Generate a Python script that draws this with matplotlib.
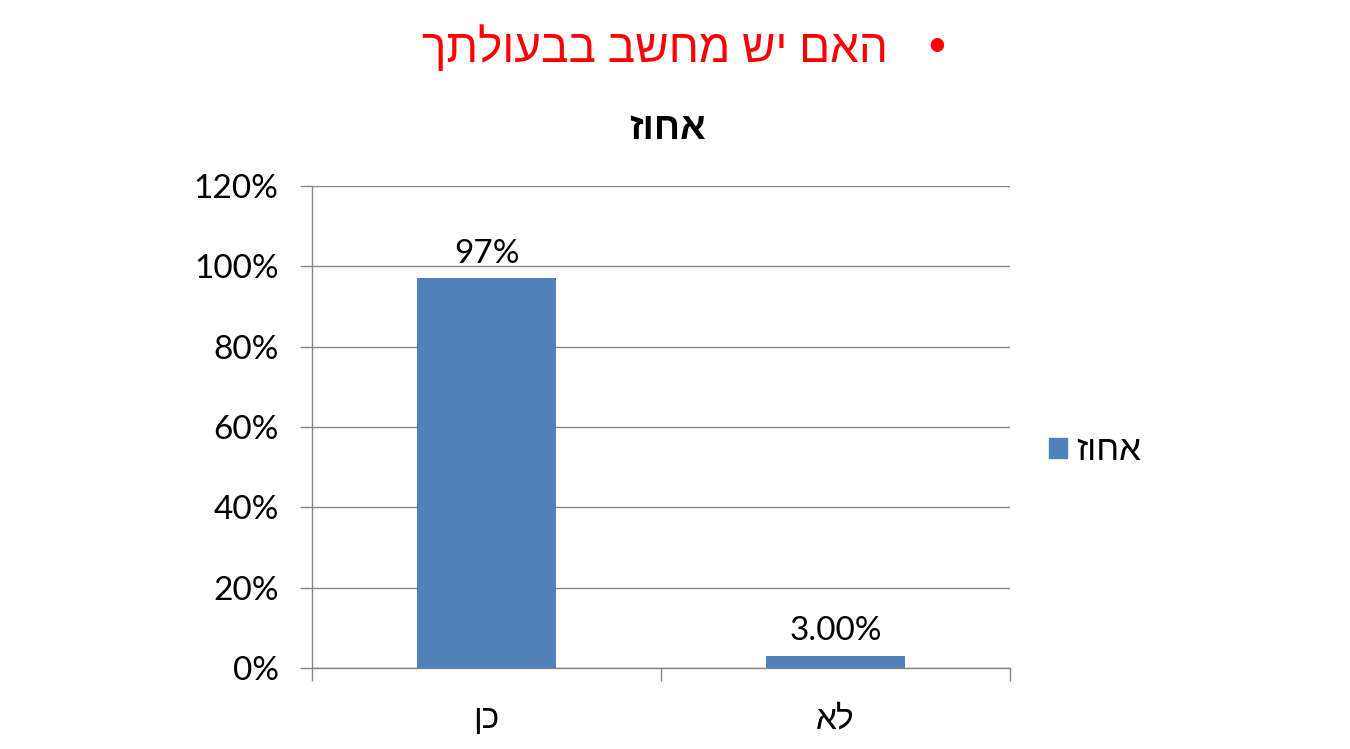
import matplotlib
matplotlib.use("Agg")
import matplotlib.pyplot as plt
from matplotlib.patches import Patch

# data
categories = ["כן", "לא"]
values = [0.97, 0.03]
value_labels = ["97%", "3.00%"]
series_name = "אחוז"
chart_title = "אחוז"
heading = "האם יש מחשב בבעולתך"
yticks = [0, 0.2, 0.4, 0.6, 0.8, 1.0, 1.2]


def rtl(s):
    # matplotlib has no bidi support, so flip Hebrew to visual order
    return s[::-1]


FONT = ["Lato", "Liberation Sans", "DejaVu Sans"]
plt.rcParams["font.family"] = FONT

BAR = "#4F81BD"
GRID = "#868686"

fig = plt.figure(figsize=(13.5, 7.49), dpi=100)
ax = fig.add_axes([312 / 1350, 1 - 668 / 749, 698 / 1350, 482 / 749])

x = list(range(len(categories)))
bars = ax.bar(x, values, width=0.4, color=BAR, zorder=3)

for b, lab in zip(bars, value_labels):
    ax.annotate(lab, (b.get_x() + b.get_width() / 2, b.get_height()),
                xytext=(0, 7), textcoords="offset points",
                ha="center", va="bottom", fontsize=24, color="black")

ax.set_xlim(-0.5, 1.5)
ax.set_ylim(0, 1.2)
ax.set_yticks(yticks)
ax.set_yticklabels([f"{int(round(t * 100))}%" for t in yticks], fontsize=24)
ax.yaxis.grid(True, color=GRID, linewidth=1, zorder=0)

ax.set_xticks(x)
ax.set_xticklabels([rtl(c) for c in categories], fontsize=24)
ax.set_xticks([-0.5, 0.5, 1.5], minor=True)
ax.tick_params(axis="x", which="major", length=0, pad=26)
ax.tick_params(axis="x", which="minor", length=9, color=GRID, width=1)
ax.tick_params(axis="y", length=9, color=GRID, width=1, pad=15)

for side in ["top", "right"]:
    ax.spines[side].set_visible(False)
for side in ["left", "bottom"]:
    ax.spines[side].set_color(GRID)
    ax.spines[side].set_linewidth(1)

fig.text(668 / 1350, 1 - 128 / 749, rtl(chart_title), ha="center", va="center",
         fontsize=27, fontweight="bold")

fig.text(888 / 1350, 1 - 48 / 749, rtl(heading), ha="right", va="center",
         fontsize=33, color="#FF0000")
fig.text(937 / 1350, 1 - 46 / 749, "•", ha="center", va="center",
         fontsize=26, color="#FF0000")

handle = Patch(facecolor=BAR, edgecolor=BAR)
fig.legend([handle], [rtl(series_name)], loc="center left",
           bbox_to_anchor=(1018 / 1350, 1 - 450 / 749), frameon=False,
           fontsize=25, handlelength=0.52, handleheight=0.52, handletextpad=0.26)

fig.savefig("out.png", dpi=100)
